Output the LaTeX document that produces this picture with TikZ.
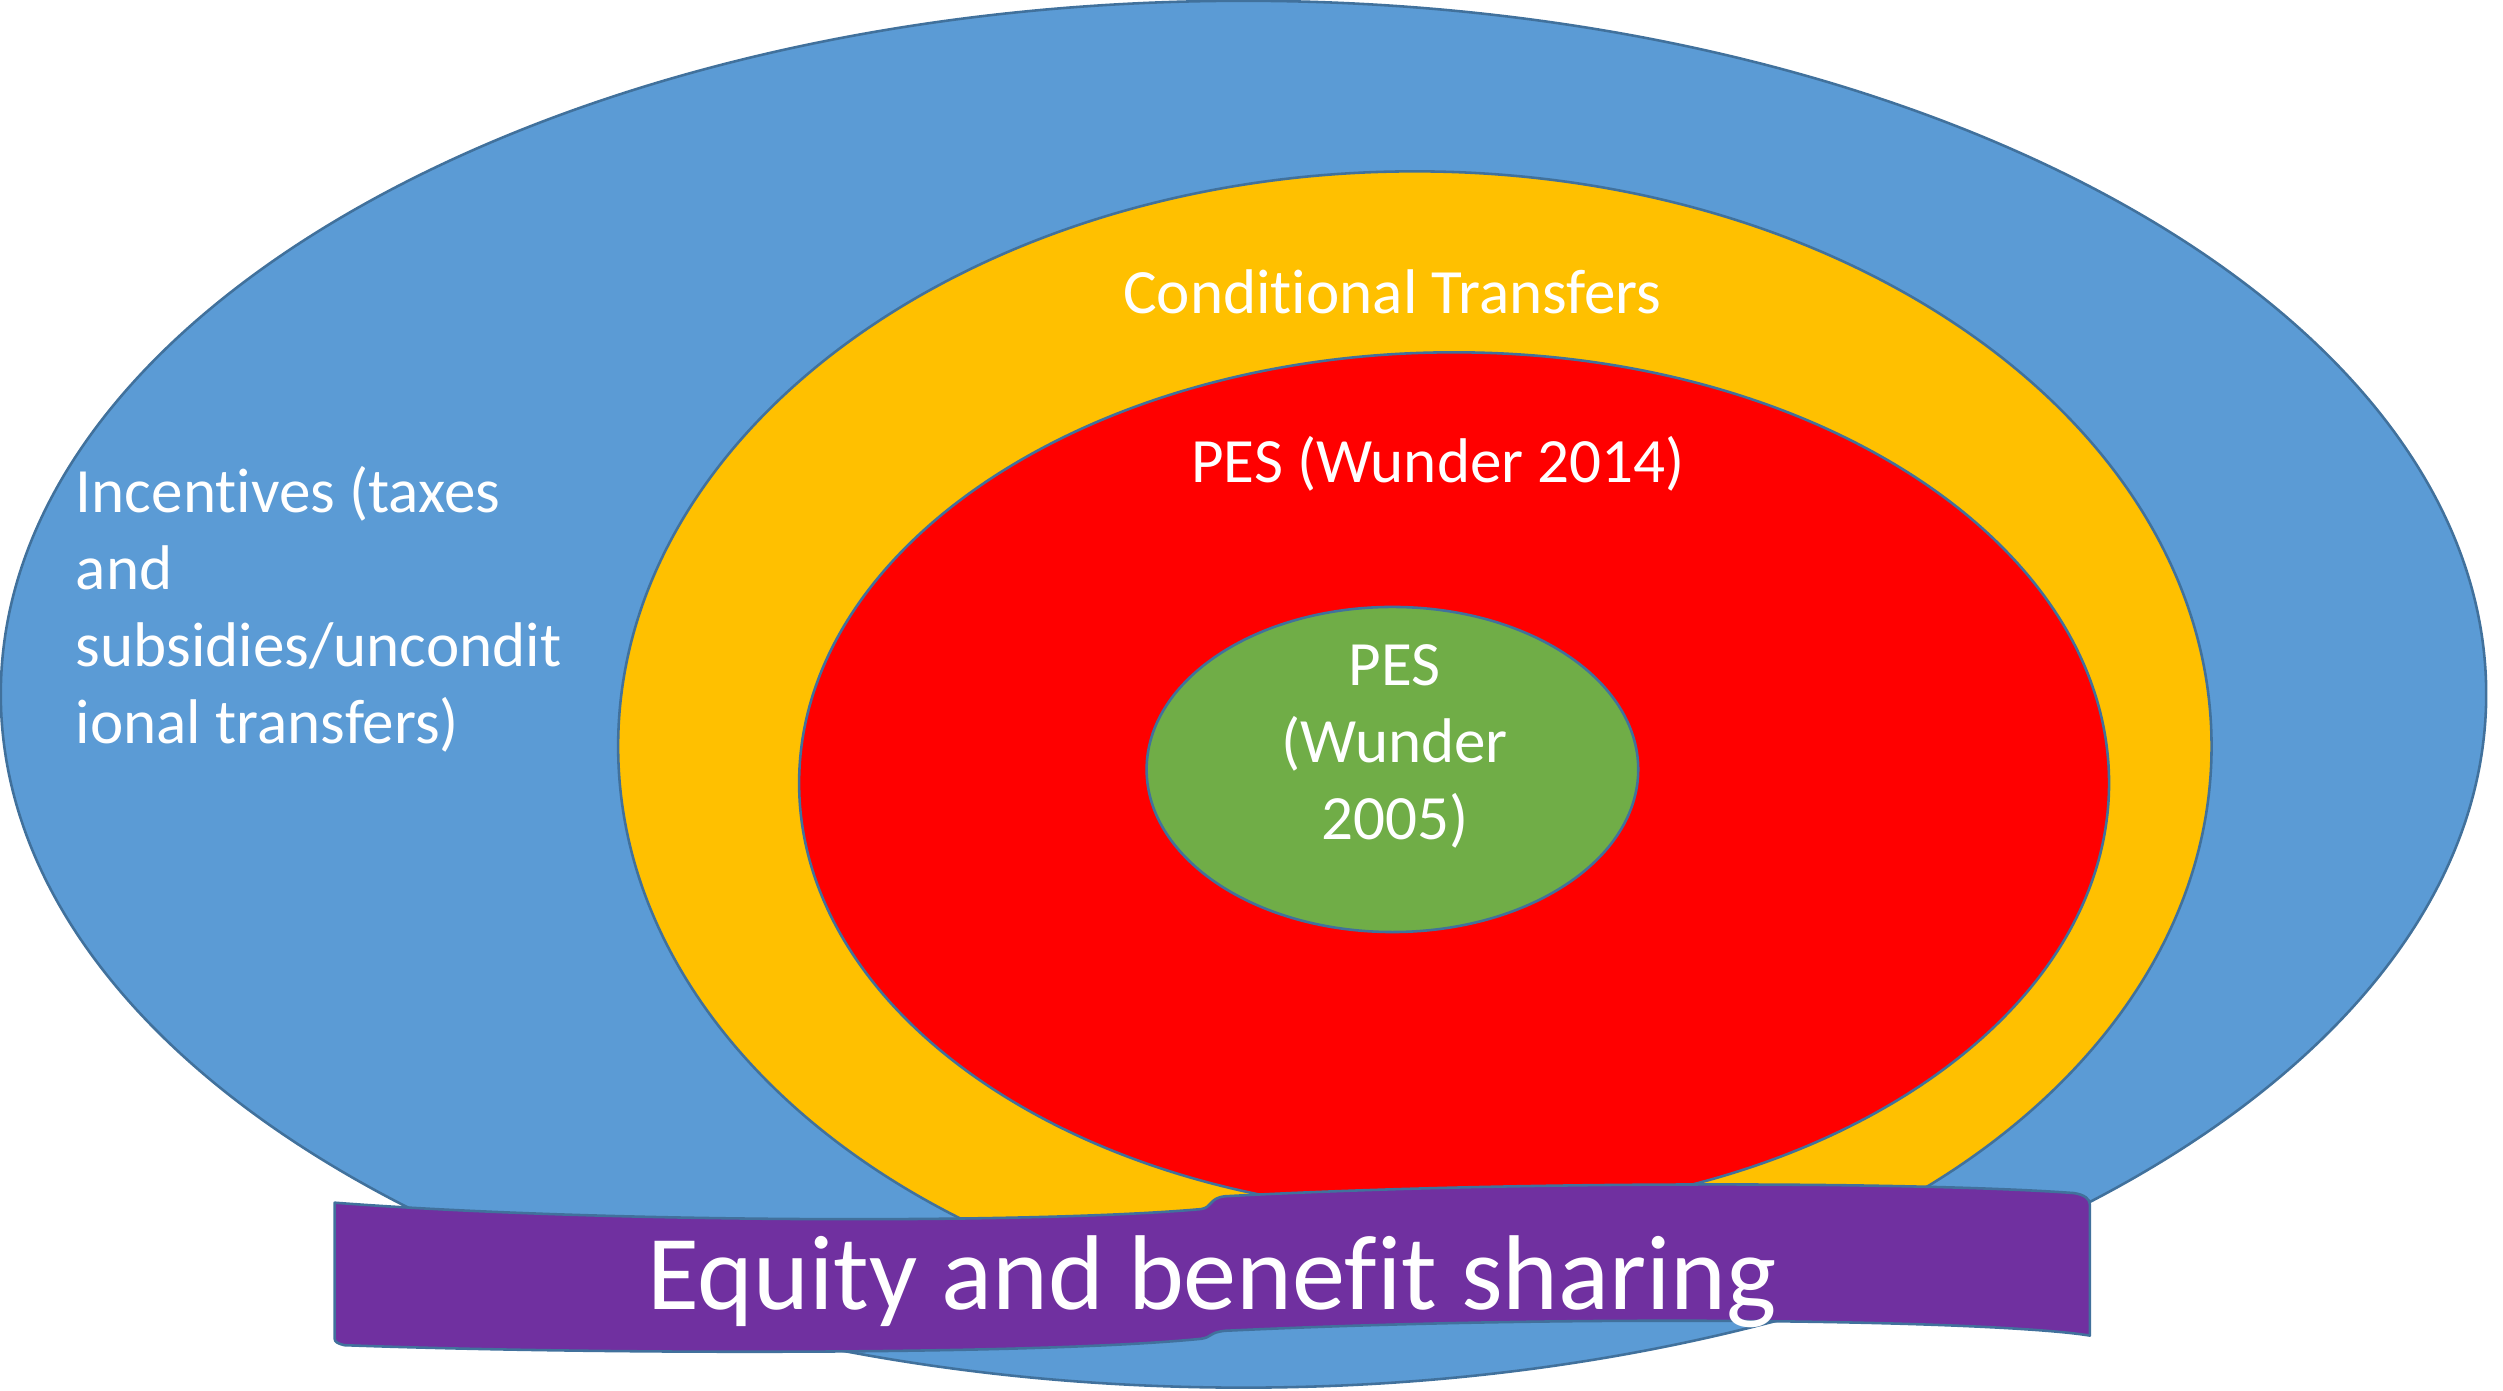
\documentclass[tikz,border=0pt]{standalone}
\usepackage{fontspec}
\setmainfont{Carlito}[Ligatures=NoCommon]
\usetikzlibrary{shapes.geometric}
\definecolor{ppblue}{HTML}{5B9BD5}
\definecolor{ppyellow}{HTML}{FFC000}
\definecolor{ppred}{HTML}{FF0000}
\definecolor{ppgreen}{HTML}{70AD47}
\definecolor{pppurple}{HTML}{7030A0}
\definecolor{ppline}{HTML}{41719C}
\tikzset{
  ring/.style={ellipse, draw=ppline, line width=0.8pt, inner sep=0pt, outer sep=0pt},
  lbl/.style={text=white, font=\fontsize{19.7}{24}\selectfont, inner sep=0pt},
  biglbl/.style={text=white, font=\fontsize{33.2}{40}\selectfont, inner sep=0pt},
  banner/.style={fill=pppurple, draw=ppline, line width=0.8pt, line join=round}
}
\begin{document}
\begin{tikzpicture}[x=0.5pt, y=-0.5pt]
\useasboundingbox (0,0) rectangle (1563,868);
% ellipses
\node[ring, fill=ppblue, minimum width=776pt, minimum height=433pt] (blue) at (776.5,433.5) {};
\node[ring, fill=ppyellow, minimum width=497.5pt, minimum height=359pt] (yellow) at (883.5,466) {};
\node[ring, fill=ppred, minimum width=409pt, minimum height=269pt] (red) at (908,489) {};
\node[ring, fill=ppgreen, minimum width=153.5pt, minimum height=101.5pt] (green) at (869.5,480.5) {};
% banner
\draw[banner] (209,751) .. controls (380,764) and (650,764) .. (750,755)
  .. controls (757,754) and (755,748) .. (765,747)
  .. controls (950,737) and (1200,738) .. (1295,745)
  .. controls (1302,746) and (1305,749) .. (1305,752)
  -- (1305,834)
  .. controls (1250,825) and (1000,820) .. (765,831)
  .. controls (755,832) and (757,835) .. (750,836)
  .. controls (650,846) and (380,846) .. (215,840)
  .. controls (211,839) and (209,838) .. (209,836) -- cycle;
% texts
\node[lbl, anchor=base west, align=left] (tinc) at (47,464) {Incentives (taxes\\and\\subsidies/uncondit\\ional transfers)};
\node[lbl, anchor=base] (tcond) at (869.5,196) {Conditional Transfers};
\node[lbl, anchor=base] (t2014) at (898,301) {PES (Wunder 2014)};
\node[lbl, anchor=base, align=center] (t2005) at (871,524) {PES\\(Wunder\\2005)};
\node[biglbl, anchor=base] (tequity) at (757,818) {Equity and benefit sharing};
\end{tikzpicture}
\end{document}
